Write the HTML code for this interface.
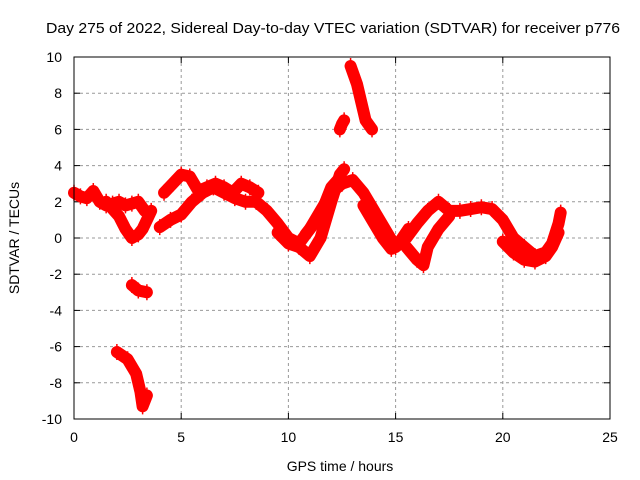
<!DOCTYPE html>
<html><head><meta charset="utf-8"><style>
body{margin:0;background:#fff;}
svg{display:block;font-family:"Liberation Sans",sans-serif;}
</style></head><body>
<svg id="chart" width="640" height="480" viewBox="0 0 640 480">
<rect width="640" height="480" fill="#fff"/>
<text x="46" y="33" font-size="15" textLength="574" lengthAdjust="spacingAndGlyphs">Day 275 of 2022, Sidereal Day-to-day VTEC variation (SDTVAR) for receiver p776</text>
<text x="340" y="471" font-size="14" text-anchor="middle">GPS time / hours</text>
<text x="19" y="238" font-size="14" text-anchor="middle" transform="rotate(-90 19 238)">SDTVAR / TECUs</text>
<g id="grid"></g>
<g id="ticks"></g>
<g id="marks"></g>
<rect x="74" y="57" width="536" height="362" fill="none" stroke="#000" stroke-width="1"/>
</svg>
<script>
const xTicks=[0,5,10,15,20,25];
const yTicks=[-10,-8,-6,-4,-2,0,2,4,6,8,10];
const trackA=[[0,2.5],[0.3,2.3],[0.6,2.2],[0.9,2.6],[1.2,2.0],[1.5,1.8],[1.8,1.9],[2.1,2.0],[2.4,1.8],[2.7,1.9],[3.0,2.0],[3.3,1.5]];
const trackB=[[1.5,2.0],[1.8,1.6],[2.1,1.2],[2.4,0.5],[2.7,0.0],[3.0,0.2],[3.2,0.5],[3.4,1.0],[3.6,1.5]];
const trackC=[[4.0,0.6],[4.5,1.0],[5.0,1.3],[5.5,2.0],[6.0,2.5],[6.5,2.8],[7.0,2.5],[7.5,2.2],[8.0,2.0],[8.5,2.0]];
const trackD=[[4.2,2.5],[4.6,3.0],[5.0,3.5],[5.4,3.4],[5.8,2.6],[6.2,2.8],[6.6,3.0],[7.0,2.8],[7.4,2.5],[7.8,3.0],[8.2,2.8],[8.6,2.5]];
const trackE=[[8.5,2.0],[9,1.5],[9.5,0.8],[10,0.0],[10.5,-0.3],[11,0.5],[11.5,1.5],[12,2.5],[12.5,3.0],[13,3.2],[13.5,2.5],[14,1.5],[14.5,0.5],[15,-0.5],[15.5,0],[16,0.8],[16.5,1.5],[17,2.0],[17.5,1.5],[18,1.5],[18.5,1.6],[19,1.7],[19.5,1.6],[20,1.0],[20.5,0],[21,-0.5],[21.5,-1.0],[22,-0.8],[22.3,-0.3],[22.6,0.8],[22.7,1.4]];
const trackF=[[9.5,0.3],[10,-0.3],[10.5,-0.5],[11,-1.0],[11.5,0],[12,2.0],[12.4,3.5],[12.6,3.8]];
const trackG=[[20,-0.2],[20.5,-0.8],[21,-1.2],[21.5,-1.3],[22,-1.0],[22.3,-0.5],[22.6,0.3]];
const trackH=[[15.5,-0.5],[16,-1.2],[16.3,-1.5],[16.5,-0.5],[17,0.5],[17.5,1.2]];
const trackM=[[13.5,1.8],[14,0.8],[14.4,0.0],[14.8,-0.6],[15.2,-0.2],[15.6,0.5]];
const trackN=[[10.8,0.2],[11.2,0.8],[11.6,1.6],[12,2.8],[12.3,3.2]];
const trackI=[[12.4,6.0],[12.5,6.3],[12.6,6.5]];
const trackJ=[[12.9,9.5],[13.2,8.5],[13.4,7.5],[13.6,6.5],[13.9,6.0]];
const trackK=[[2.7,-2.6],[3.0,-2.9],[3.4,-3.0]];
const trackL=[[2.0,-6.3],[2.5,-6.7],[2.9,-7.5],[3.1,-8.5],[3.2,-9.3],[3.4,-8.7]];
const tracks=[trackA,trackB,trackC,trackD,trackE,trackF,trackG,trackH,trackM,trackN,trackI,trackJ,trackK,trackL];
const X=t=>74+t*536/25, Y=v=>238-v*18.1;
const NS="http://www.w3.org/2000/svg";
const grid=document.getElementById('grid'),ticks=document.getElementById('ticks'),marks=document.getElementById('marks');
function mk(tag,attrs,parent){const e=document.createElementNS(NS,tag);for(const k in attrs)e.setAttribute(k,attrs[k]);parent.appendChild(e);return e;}
xTicks.forEach(t=>{const x=X(t);
 if(t>0&&t<25){const g=mk('line',{x1:x,x2:x,y1:57,y2:419,stroke:'#999','stroke-dasharray':'3,3'},grid);
 
 }
 const l=mk('text',{x:x,y:442,'font-size':14,'text-anchor':'middle'},ticks);l.textContent=t;
 
 
 mk('line',{x1:x,x2:x,y1:419,y2:413,stroke:'#000'},ticks);mk('line',{x1:x,x2:x,y1:57,y2:63,stroke:'#000'},ticks);});
yTicks.forEach(v=>{const y=Y(v);
 if(v>-10&&v<10){const g=mk('line',{x1:74,x2:610,y1:y,y2:y,stroke:'#999','stroke-dasharray':'3,3'},grid);
 
 }
 const l=mk('text',{x:62,y:y+5,'font-size':14,'text-anchor':'end'},ticks);l.textContent=v;
 
 
 mk('line',{x1:74,x2:80,y1:y,y2:y,stroke:'#000'},ticks);mk('line',{x1:610,x2:604,y1:y,y2:y,stroke:'#000'},ticks);});
tracks.forEach((tr,i)=>{
 const p=mk('polyline',{points:tr.map(d=>X(d[0])+','+Y(d[1])).join(' '),fill:'none',stroke:'#f00','stroke-width':12,'stroke-linejoin':'round','stroke-linecap':'round'},marks);
 
 
 tr.forEach(d=>{const x=X(d[0]),y=Y(d[1]);
  const m=mk('path',{d:`M${x-5},${y}h10M${x},${y-8}v16`,stroke:'#f00','stroke-width':1.5},marks);
  
  });
});
</script>
</body></html>
